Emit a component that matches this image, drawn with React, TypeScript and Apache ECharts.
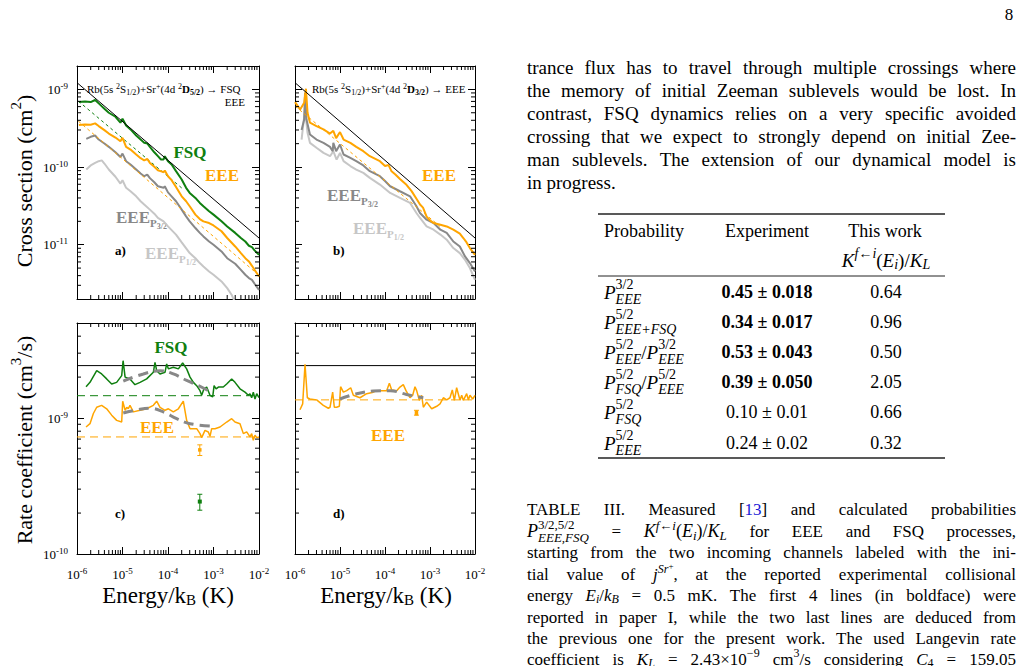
import React, { useEffect, useRef } from 'react';
import * as echarts from 'echarts';

type Pt = [number, number];

// ---------------- axis ranges ----------------
const X_MIN = 1e-6;
const X_MAX = 1e-2;
const SIGMA_MIN = 2e-12;
const SIGMA_MAX = 2e-9;
const RATE_MIN = 1e-10;
const RATE_MAX = 5e-9;
const MANTISSAS = [2, 3, 4, 5, 6, 7, 8, 9];
const X_DECADES = [1e-6, 1e-5, 1e-4, 1e-3];
const SIGMA_DECADES = [1e-12, 1e-11, 1e-10, 1e-9];
const RATE_DECADES = [1e-10, 1e-9];

// ---------------- panel a : cross sections, Sr+(4d 2D5/2) ----------------
const A_LANGEVIN: Pt[] = [[1e-6, 1.22e-9], [1e-2, 1.22e-11]];
const A_FSQ: Pt[] = [
  [1.1e-6, 6.86e-10], [1.5e-6, 7.0e-10], [2e-6, 6.86e-10], [2.5e-6, 7.3e-10], [3e-6, 6.6e-10],
  [4e-6, 5.63e-10], [5e-6, 5.0e-10], [7e-6, 4.44e-10], [9e-6, 3.72e-10], [1e-5, 4.19e-10],
  [1.2e-5, 3.43e-10], [1.5e-5, 3.05e-10], [2e-5, 2.55e-10], [2.5e-5, 2.26e-10], [3e-5, 2.05e-10],
  [3.5e-5, 2.01e-10], [4e-5, 1.82e-10], [5e-5, 1.55e-10], [6e-5, 1.38e-10], [7e-5, 1.25e-10],
  [8e-5, 1.25e-10], [8.5e-5, 1.38e-10], [1e-4, 1.19e-10], [1.2e-4, 1.08e-10], [1.5e-4, 8.85e-11],
  [2e-4, 6.9e-11], [2.5e-4, 5.4e-11], [3e-4, 4.64e-11], [4e-4, 4.0e-11], [5e-4, 3.45e-11],
  [6e-4, 3.13e-11], [8e-4, 2.7e-11], [1e-3, 2.44e-11], [1.5e-3, 2.0e-11], [2e-3, 1.72e-11],
  [3e-3, 1.42e-11], [4e-3, 1.22e-11], [5e-3, 1.1e-11], [6e-3, 9.7e-12], [7e-3, 9.3e-12],
  [8e-3, 8.45e-12], [1e-2, 7.4e-12],
];
const A_FSQ_FIT: Pt[] = [[1.07e-6, 7.06e-10], [2e-4, 5.38e-11]];
const A_EEE: Pt[] = [
  [1.1e-6, 3.47e-10], [1.5e-6, 3.54e-10], [2e-6, 3.5e-10], [2.5e-6, 3.65e-10], [3e-6, 3.37e-10],
  [4e-6, 2.99e-10], [5e-6, 2.7e-10], [7e-6, 2.4e-10], [9e-6, 2.15e-10], [1e-5, 2.38e-10],
  [1.2e-5, 1.82e-10], [1.5e-5, 1.68e-10], [2e-5, 1.45e-10], [2.5e-5, 1.3e-10], [3e-5, 1.22e-10],
  [3.5e-5, 1.27e-10], [4e-5, 1.13e-10], [5e-5, 1.01e-10], [6e-5, 9.1e-11], [8e-5, 8.6e-11],
  [8.5e-5, 9.0e-11], [1e-4, 7.62e-11], [1.2e-4, 6.77e-11], [1.5e-4, 5.55e-11], [2e-4, 4.2e-11],
  [2.5e-4, 3.63e-11], [3e-4, 3.13e-11], [4e-4, 2.44e-11], [5e-4, 2.14e-11], [6e-4, 2.0e-11],
  [8e-4, 1.9e-11], [1e-3, 1.77e-11], [1.5e-3, 1.49e-11], [2e-3, 1.22e-11], [3e-3, 9.5e-12],
  [4e-3, 7.8e-12], [5e-3, 6.7e-12], [6e-3, 6.1e-12], [7e-3, 5.35e-12], [8e-3, 4.75e-12],
  [1e-2, 3.9e-12],
];
const A_EEE_FIT: Pt[] = [[1.07e-6, 3.9e-10], [1e-2, 4.04e-12]];
const A_EEE_P32: Pt[] = [
  [1.6e-6, 2.31e-10], [2e-6, 2.45e-10], [2.5e-6, 2.55e-10], [3e-6, 2.26e-10], [4e-6, 2.01e-10],
  [5e-6, 1.82e-10], [7e-6, 1.55e-10], [9e-6, 1.35e-10], [1e-5, 1.49e-10], [1.2e-5, 1.19e-10],
  [1.5e-5, 1.08e-10], [2e-5, 9.29e-11], [2.5e-5, 8.25e-11], [3e-5, 7.62e-11], [3.5e-5, 8.0e-11],
  [4e-5, 7.2e-11], [5e-5, 6.37e-11], [6e-5, 5.66e-11], [8e-5, 5.4e-11], [8.5e-5, 5.66e-11],
  [1e-4, 4.72e-11], [1.2e-4, 4.2e-11], [1.5e-4, 3.63e-11], [2e-4, 2.83e-11], [2.5e-4, 2.32e-11],
  [3e-4, 2.0e-11], [4e-4, 1.64e-11], [5e-4, 1.42e-11], [6e-4, 1.28e-11], [8e-4, 1.1e-11],
  [1e-3, 1.0e-11], [1.5e-3, 8.2e-12], [2e-3, 6.7e-12], [3e-3, 5.68e-12], [4e-3, 4.75e-12],
  [5e-3, 4.1e-12], [6e-3, 3.72e-12], [7e-3, 3.53e-12], [8e-3, 3.14e-12], [1e-2, 2.62e-12],
];
const A_EEE_P12: Pt[] = [
  [1.6e-6, 9.29e-11], [2e-6, 1.05e-10], [2.5e-6, 1.13e-10], [3e-6, 1.19e-10], [3.5e-6, 1.22e-10],
  [4e-6, 1.11e-10], [5e-6, 9.29e-11], [7e-6, 7.5e-11], [9e-6, 6.13e-11], [1e-5, 6.77e-11],
  [1.2e-5, 5.4e-11], [1.5e-5, 4.88e-11], [2e-5, 4.2e-11], [2.5e-5, 3.63e-11], [3e-5, 3.29e-11],
  [4e-5, 2.83e-11], [5e-5, 2.51e-11], [6e-5, 2.21e-11], [8e-5, 2.0e-11], [1e-4, 1.72e-11],
  [1.5e-4, 1.35e-11], [2e-4, 1.07e-11], [3e-4, 7.8e-12], [4e-4, 6.7e-12], [5e-4, 5.8e-12],
  [6e-4, 5.25e-12], [8e-4, 4.53e-12], [1e-3, 4.1e-12], [1.5e-3, 3.37e-12], [2e-3, 2.76e-12],
  [2.5e-3, 2.27e-12], [3e-3, 1.8e-12],
];

// ---------------- panel b : cross sections, Sr+(4d 2D3/2) ----------------
const B_LANGEVIN: Pt[] = [[1e-6, 1.22e-9], [1e-2, 1.22e-11]];
const B_EEE: Pt[] = [
  [1e-6, 6.86e-10], [1.3e-6, 5.52e-10], [1.6e-6, 6.73e-10], [1.75e-6, 1.02e-9], [1.9e-6, 5.0e-10],
  [2.15e-6, 3.72e-10], [3e-6, 3.37e-10], [4.3e-6, 3.05e-10], [6e-6, 2.7e-10], [7.1e-6, 2.93e-10],
  [8.2e-6, 2.36e-10], [1e-5, 2.82e-10], [1.2e-5, 2.26e-10], [1.7e-5, 2.05e-10], [2.3e-5, 1.82e-10],
  [3.3e-5, 1.6e-10], [4.6e-5, 1.38e-10], [7.7e-5, 1.19e-10], [1e-4, 1.03e-10], [1.2e-4, 1.06e-10],
  [1.4e-4, 8.8e-11], [1.7e-4, 8.0e-11], [2.15e-4, 7.0e-11], [3e-4, 5.9e-11], [3.9e-4, 4.9e-11],
  [5e-4, 3.9e-11], [6e-4, 3.3e-11], [7e-4, 3.0e-11], [8.4e-4, 2.3e-11], [1e-3, 2.06e-11],
  [1.2e-3, 1.9e-11], [1.7e-3, 1.81e-11], [2.35e-3, 1.72e-11], [3.3e-3, 1.56e-11], [4.6e-3, 1.39e-11],
  [5.5e-3, 1.22e-11], [6.5e-3, 1.07e-11], [7.7e-3, 9.05e-12], [1e-2, 7.4e-12],
];
const B_EEE_FIT: Pt[] = [[1e-6, 6.1e-10], [1.67e-3, 1.72e-11]];
const B_EEE_P32: Pt[] = [
  [1.4e-6, 2.99e-10], [1.6e-6, 4.1e-10], [1.67e-6, 9.06e-10], [1.8e-6, 4.1e-10], [2.15e-6, 2.63e-10],
  [3e-6, 2.26e-10], [4.3e-6, 2.05e-10], [6e-6, 1.82e-10], [6.9e-6, 1.6e-10], [7.1e-6, 2.05e-10],
  [8.2e-6, 1.6e-10], [1e-5, 1.95e-10], [1.2e-5, 1.45e-10], [1.7e-5, 1.31e-10], [2.3e-5, 1.19e-10],
  [3.3e-5, 1.05e-10], [4.6e-5, 8.85e-11], [7.7e-5, 7.62e-11], [1e-4, 6.6e-11], [1.3e-4, 5.66e-11],
  [2.15e-4, 4.88e-11], [3.6e-4, 4.2e-11], [5e-4, 3.13e-11], [6e-4, 2.56e-11], [8.4e-4, 2.1e-11],
  [1.2e-3, 1.9e-11], [1.7e-3, 1.56e-11], [2.35e-3, 1.42e-11], [3.3e-3, 1.1e-11], [4.6e-3, 9.5e-12],
  [6e-3, 7.06e-12], [7.7e-3, 5.8e-12], [1e-2, 4.53e-12],
];
const B_EEE_P12: Pt[] = [
  [1.4e-6, 2.26e-10], [1.67e-6, 5.52e-10], [1.9e-6, 2.76e-10], [2.15e-6, 2.05e-10], [3e-6, 1.77e-10],
  [4.3e-6, 1.52e-10], [6e-6, 1.38e-10], [7.1e-6, 1.6e-10], [8.4e-6, 1.25e-10], [1e-5, 1.52e-10],
  [1.2e-5, 1.19e-10], [1.7e-5, 1.03e-10], [2.3e-5, 9.29e-11], [3.3e-5, 8.41e-11], [4.6e-5, 7.26e-11],
  [7.7e-5, 5.95e-11], [1.3e-4, 4.64e-11], [2.15e-4, 4.0e-11], [3.6e-4, 3.45e-11], [5e-4, 2.56e-11],
  [6e-4, 2.21e-11], [8.4e-4, 1.72e-11], [1.2e-3, 1.56e-11], [1.7e-3, 1.35e-11], [2.35e-3, 1.16e-11],
  [3.3e-3, 9.05e-12], [4.6e-3, 7.8e-12], [6e-3, 6.4e-12], [7.7e-3, 5.0e-12], [1e-2, 3.53e-12],
];

// ---------------- panel c : rate coefficients, 5/2 ----------------
const LANGEVIN_RATE = 2.43e-9;
const C_FSQ_LEVEL = 1.46e-9;
const C_EEE_LEVEL = 7.26e-10;
const C_FSQ: Pt[] = [
  [1.58e-6, 1.7e-9], [1.93e-6, 1.83e-9], [2.71e-6, 2.23e-9], [3.48e-6, 2.11e-9], [4.49e-6, 1.94e-9],
  [5.78e-6, 1.78e-9], [7.44e-6, 1.83e-9], [9.6e-6, 2.05e-9], [1.03e-5, 2.64e-9], [1.14e-5, 2.0e-9],
  [1.46e-5, 1.94e-9], [1.88e-5, 1.76e-9], [2.43e-5, 1.83e-9], [3.4e-5, 1.94e-9], [4.76e-5, 2.17e-9],
  [5.18e-5, 2.57e-9], [5.64e-5, 2.23e-9], [6.67e-5, 2.11e-9], [8.59e-5, 2.17e-9], [9.35e-5, 2.5e-9],
  [1.02e-4, 2.3e-9], [1.31e-4, 2.36e-9], [1.69e-4, 2.3e-9], [2.1e-4, 2.54e-9], [2.57e-4, 2.3e-9],
  [3.05e-4, 2.0e-9], [3.61e-4, 1.83e-9], [4.27e-4, 1.73e-9], [5.05e-4, 1.59e-9], [5.5e-4, 1.47e-9],
  [6.18e-4, 1.64e-9], [7.08e-4, 1.69e-9], [8.37e-4, 1.47e-9], [9.6e-4, 1.43e-9], [1.03e-3, 1.73e-9],
  [1.14e-3, 1.64e-9], [1.28e-3, 1.69e-9], [1.64e-3, 1.69e-9], [1.95e-3, 1.78e-9], [2.51e-3, 1.94e-9],
  [2.97e-3, 1.83e-9], [3.82e-3, 1.64e-9], [4.92e-3, 1.55e-9], [5.83e-3, 1.47e-9], [6.34e-3, 1.51e-9],
  [6.9e-3, 1.41e-9], [7.5e-3, 1.55e-9], [8.17e-3, 1.38e-9], [8.89e-3, 1.51e-9], [1e-2, 1.41e-9],
];
const C_EEE: Pt[] = [
  [1.58e-6, 8.59e-10], [1.93e-6, 9.09e-10], [2.29e-6, 1.08e-9], [2.71e-6, 1.2e-9], [3.48e-6, 1.24e-9],
  [4.49e-6, 1.17e-9], [5.78e-6, 1.05e-9], [7.44e-6, 9.61e-10], [9.6e-6, 9.35e-10], [1.01e-5, 1.33e-9],
  [1.14e-5, 1.14e-9], [1.24e-5, 1.2e-9], [1.34e-5, 1.17e-9], [1.46e-5, 1.24e-9], [1.73e-5, 1.11e-9],
  [2.43e-5, 1.14e-9], [3.4e-5, 1.17e-9], [4.76e-5, 1.24e-9], [5.64e-5, 1.33e-9], [6.67e-5, 1.2e-9],
  [8.59e-5, 1.14e-9], [1.02e-4, 1.17e-9], [1.31e-4, 1.11e-9], [1.69e-4, 1.17e-9], [2.17e-4, 1.33e-9],
  [2.57e-4, 9.61e-10], [3.05e-4, 8.35e-10], [3.61e-4, 8.35e-10], [4.27e-4, 8.35e-10], [5.05e-4, 7.68e-10],
  [5.5e-4, 7.18e-10], [6.5e-4, 8.12e-10], [7.69e-4, 7.9e-10], [8.37e-4, 7.34e-10], [9.12e-4, 8.35e-10],
  [1.08e-3, 8.35e-10], [1.39e-3, 8.59e-10], [1.95e-3, 9.35e-10], [2.51e-3, 9.89e-10], [2.97e-3, 9.35e-10],
  [3.82e-3, 9.09e-10], [4.53e-3, 7.68e-10], [5.36e-3, 7.9e-10], [6.34e-3, 7.26e-10], [6.9e-3, 7.68e-10],
  [7.5e-3, 6.87e-10], [8.17e-3, 7.47e-10], [8.89e-3, 7.18e-10], [1e-2, 7.26e-10],
];
const C_FSQ_AVG: Pt[] = [
  [1.04e-5, 1.87e-9], [2.87e-5, 2.11e-9], [6.67e-5, 2.23e-9], [1.31e-4, 2.11e-9],
  [2.57e-4, 1.89e-9], [5.05e-4, 1.71e-9], [7.69e-4, 1.59e-9],
];
const C_EEE_AVG: Pt[] = [
  [1.04e-5, 1.09e-9], [2.43e-5, 1.16e-9], [4.02e-5, 1.18e-9], [7.89e-5, 1.11e-9],
  [1.55e-4, 9.89e-10], [3.05e-4, 9.09e-10], [9.9e-4, 8.69e-10],
];
// [energy, value, low, high]
const C_EXP_EEE: number[][] = [[5e-4, 5.83e-10, 5.3e-10, 6.35e-10]];
const C_EXP_FSQ: number[][] = [[5e-4, 2.43e-10, 2.1e-10, 2.75e-10]];

// ---------------- panel d : rate coefficients, 3/2 ----------------
const D_EEE_LEVEL = 1.36e-9;
const D_EEE: Pt[] = [
  [1.29e-6, 1.15e-9], [1.48e-6, 1.27e-9], [1.67e-6, 2.48e-9], [1.88e-6, 1.41e-9], [2.15e-6, 1.38e-9],
  [3.03e-6, 1.36e-9], [4.26e-6, 1.24e-9], [5.5e-6, 1.18e-9], [6.0e-6, 1.2e-9], [6.87e-6, 1.55e-9],
  [7.48e-6, 1.2e-9], [8.43e-6, 1.2e-9], [9.67e-6, 1.22e-9], [1.03e-5, 1.7e-9], [1.19e-5, 1.55e-9],
  [1.41e-5, 1.59e-9], [1.73e-5, 1.67e-9], [1.98e-5, 1.47e-9], [2.78e-5, 1.41e-9], [3.91e-5, 1.51e-9],
  [5.5e-5, 1.55e-9], [6.53e-5, 1.59e-9], [7.74e-5, 1.59e-9], [1.09e-4, 1.59e-9], [1.25e-4, 1.8e-9],
  [1.41e-4, 1.61e-9], [1.82e-4, 1.59e-9], [2.15e-4, 1.69e-9], [2.55e-4, 1.76e-9], [2.93e-4, 1.59e-9],
  [3.59e-4, 1.41e-9], [4.12e-4, 1.47e-9], [4.64e-4, 1.7e-9], [5.05e-4, 1.59e-9], [5.8e-4, 1.35e-9],
  [6.53e-4, 1.47e-9], [7.11e-4, 1.2e-9], [8.43e-4, 1.31e-9], [1.09e-3, 1.17e-9], [1.41e-3, 1.22e-9],
  [1.67e-3, 1.27e-9], [1.98e-3, 1.41e-9], [2.35e-3, 1.36e-9], [2.78e-3, 1.41e-9], [3.13e-3, 1.61e-9],
  [3.47e-3, 1.35e-9], [3.91e-3, 1.67e-9], [4.64e-3, 1.35e-9], [5.06e-3, 1.47e-9], [5.5e-3, 1.35e-9],
  [6.53e-3, 1.51e-9], [7.11e-3, 1.36e-9], [7.74e-3, 1.47e-9], [8.87e-3, 1.38e-9], [1e-2, 1.47e-9],
];
const D_EEE_AVG: Pt[] = [
  [1e-5, 1.38e-9], [2.35e-5, 1.51e-9], [5.5e-5, 1.58e-9], [1.3e-4, 1.59e-9], [3e-4, 1.49e-9], [7.11e-4, 1.41e-9],
];
const D_EXP_EEE: number[][] = [[5e-4, 1.09e-9, 1.05e-9, 1.14e-9]];

// ---------------- text content ----------------
const PARAGRAPH = [
  'trance flux has to travel through multiple crossings where',
  'the memory of initial Zeeman sublevels would be lost. In',
  'contrast, FSQ dynamics relies on a very specific avoided',
  'crossing that we expect to strongly depend on initial Zee-',
  'man sublevels. The extension of our dynamical model is',
  'in progress.',
];
const TABLE_HEAD = ['Probability', 'Experiment', 'This work'];
const TABLE_PROB: [string, string][][] = [
  [['3/2', 'EEE']],
  [['5/2', 'EEE+FSQ']],
  [['5/2', 'EEE'], ['3/2', 'EEE']],
  [['5/2', 'FSQ'], ['5/2', 'EEE']],
  [['5/2', 'FSQ']],
  [['5/2', 'EEE']],
];
const TABLE_EXP = ['0.45 ± 0.018', '0.34 ± 0.017', '0.53 ± 0.043', '0.39 ± 0.050', '0.10 ± 0.01', '0.24 ± 0.02'];
const TABLE_EXP_BOLD = [true, true, true, true, false, false];
const TABLE_THEORY = ['0.64', '0.96', '0.50', '2.05', '0.66', '0.32'];

// ---------------- styling ----------------
const GREEN = '#0f7f0f';
const ORANGE = '#ffa500';
const GRAY = '#888888';
const LIGHT = '#c6c6c6';
const BLUE = '#1a1ad6';
const FAM = "'Liberation Serif', 'Times New Roman', serif";

function fnt(size: number, b?: boolean, i?: boolean) {
  return `${i ? 'italic ' : ''}${b ? 'bold ' : ''}${Math.round(size)}px ${FAM}`;
}
let _ctx: CanvasRenderingContext2D | null = null;
function mw(s: string, font: string) {
  if (!_ctx) _ctx = document.createElement('canvas').getContext('2d');
  _ctx!.font = font;
  return _ctx!.measureText(s).width;
}
type Part = { s: string; size: number; b?: boolean; i?: boolean; dy?: number; c?: string; stack?: boolean };
type Tok = { w: number; parts: Part[] };
function tok(parts: Part[]): Tok {
  let x = 0, pend = 0;
  for (const p of parts) {
    const w = mw(p.s, fnt(p.size, p.b, p.i));
    if (p.stack) pend = Math.max(pend, w);
    else { x += Math.max(w, pend); pend = 0; }
  }
  x += pend;
  return { w: x, parts };
}
function textEl(x: number, y: number, s: string, font: string, fill: string, align = 'left') {
  return {
    type: 'text', x, y, silent: true,
    style: { text: s, font, fill, align, textAlign: align, verticalAlign: 'middle', textVerticalAlign: 'middle' },
  };
}
function renderTok(t: Tok, x0: number, y: number, out: any[]) {
  let x = x0, pend = 0;
  for (const p of t.parts) {
    const font = fnt(p.size, p.b, p.i);
    const w = mw(p.s, font);
    out.push(textEl(x, y + (p.dy || 0), p.s, font, p.c || '#000'));
    if (p.stack) pend = Math.max(pend, w);
    else { x += Math.max(w, pend); pend = 0; }
  }
}
function W(s: string, size: number, extra: Partial<Part> = {}): Tok {
  return tok([{ s, size, ...extra }]);
}
function lineOut(tokens: Tok[], x0: number, x1: number, y: number, out: any[], justify: boolean, size: number) {
  const sum = tokens.reduce((a, t) => a + t.w, 0);
  const gap = justify && tokens.length > 1 ? (x1 - x0 - sum) / (tokens.length - 1) : mw(' ', fnt(size));
  let x = x0;
  for (const t of tokens) { renderTok(t, x, y, out); x += t.w + gap; }
}
function words(s: string, size: number): Tok[] {
  return s.split(' ').map((w) => W(w, size));
}

function powLabel(v: number) {
  const e = Math.log10(v);
  const r = Math.round(e);
  if (Math.abs(e - r) > 1e-6) return '';
  return `{b|10}{s|${r}}`;
}
const LABEL_RICH = {
  b: { fontFamily: FAM, fontSize: 13, lineHeight: 16, color: '#000' },
  s: { fontFamily: FAM, fontSize: 9, lineHeight: 7, verticalAlign: 'top', color: '#000' },
};

function minors(decades: number[], lo: number, hi: number) {
  const out: number[] = [];
  for (const d of decades) for (const m of MANTISSAS) {
    const v = m * d;
    if (v > lo * 1.0001 && v < hi * 0.9999) out.push(v);
  }
  return out;
}

const GRIDS = [
  { left: 77, top: 66, width: 182, height: 233 },
  { left: 295, top: 66, width: 180, height: 233 },
  { left: 77, top: 323, width: 182, height: 231 },
  { left: 295, top: 323, width: 180, height: 231 },
];

function axis(g: number, min: number, max: number, position: string, labels: boolean, margin: number) {
  return {
    type: 'log', logBase: 10, gridIndex: g, min, max, position,
    axisLine: { show: true, onZero: false, lineStyle: { color: '#000', width: 1 } },
    axisTick: { show: true, inside: true, length: 7, lineStyle: { color: '#000', width: 1 } },
    axisLabel: { show: labels, margin, formatter: powLabel, rich: LABEL_RICH, color: '#000' },
    splitLine: { show: false },
    minorTick: { show: false },
  };
}

function lineS(g: number, data: Pt[], color: string, width: number, type: any = 'solid', extra: any = {}) {
  return {
    type: 'line', xAxisIndex: 2 * g, yAxisIndex: 2 * g, data, showSymbol: false, symbol: 'none',
    silent: true, lineStyle: { color, width, type }, ...extra,
  };
}
function levelS(g: number, v: number, color: string, width: number, type: any) {
  return lineS(g, [[X_MIN, v], [X_MAX, v]], color, width, type);
}
function xTicks(g: number, yMin: number, yMax: number) {
  return {
    type: 'custom', xAxisIndex: 2 * g, yAxisIndex: 2 * g, silent: true, z: 10,
    data: minors(X_DECADES, X_MIN, X_MAX).map((v) => [v, yMin]),
    renderItem: (_p: any, api: any) => {
      const v = api.value(0);
      const b = api.coord([v, yMin]);
      const t = api.coord([v, yMax]);
      return {
        type: 'group', children: [
          { type: 'line', shape: { x1: b[0], y1: b[1], x2: b[0], y2: b[1] - 4 }, style: { stroke: '#000', lineWidth: 1 } },
          { type: 'line', shape: { x1: t[0], y1: t[1], x2: t[0], y2: t[1] + 4 }, style: { stroke: '#000', lineWidth: 1 } },
        ],
      };
    },
  };
}
function yTicks(g: number, decades: number[], yMin: number, yMax: number) {
  return {
    type: 'custom', xAxisIndex: 2 * g, yAxisIndex: 2 * g, silent: true, z: 10,
    data: minors(decades, yMin, yMax).map((v) => [X_MIN, v]),
    renderItem: (_p: any, api: any) => {
      const v = api.value(1);
      const l = api.coord([X_MIN, v]);
      const r = api.coord([X_MAX, v]);
      return {
        type: 'group', children: [
          { type: 'line', shape: { x1: l[0], y1: l[1], x2: l[0] + 4, y2: l[1] }, style: { stroke: '#000', lineWidth: 1 } },
          { type: 'line', shape: { x1: r[0], y1: r[1], x2: r[0] - 4, y2: r[1] }, style: { stroke: '#000', lineWidth: 1 } },
        ],
      };
    },
  };
}
function errS(g: number, data: number[][], color: string, mw2: number, mh: number) {
  return {
    type: 'custom', xAxisIndex: 2 * g, yAxisIndex: 2 * g, silent: true, z: 8, data,
    renderItem: (_p: any, api: any) => {
      const e = api.value(0);
      const c = api.coord([e, api.value(1)]);
      const lo = api.coord([e, api.value(2)]);
      const hi = api.coord([e, api.value(3)]);
      return {
        type: 'group', children: [
          { type: 'line', shape: { x1: c[0], y1: lo[1], x2: c[0], y2: hi[1] }, style: { stroke: color, lineWidth: 1 } },
          { type: 'line', shape: { x1: c[0] - 2.5, y1: lo[1], x2: c[0] + 2.5, y2: lo[1] }, style: { stroke: color, lineWidth: 1 } },
          { type: 'line', shape: { x1: c[0] - 2.5, y1: hi[1], x2: c[0] + 2.5, y2: hi[1] }, style: { stroke: color, lineWidth: 1 } },
          { type: 'rect', shape: { x: c[0] - mw2 / 2, y: c[1] - mh / 2, width: mw2, height: mh }, style: { fill: color } },
        ],
      };
    },
  };
}

function buildGraphics() {
  const out: any[] = [];
  // page number
  out.push(textEl(1009, 14, '8', fnt(17), '#000', 'center'));

  // paragraph
  const PS = 19;
  PARAGRAPH.forEach((s, i) => {
    lineOut(words(s, PS), 527, 1016, 67 + i * 23, out, i < PARAGRAPH.length - 1, PS);
  });

  // table
  const TS = 18, TSS = 14;
  out.push({ type: 'line', silent: true, shape: { x1: 598, y1: 214, x2: 945, y2: 214 }, style: { stroke: '#222', lineWidth: 1.5 } });
  out.push({ type: 'line', silent: true, shape: { x1: 598, y1: 276, x2: 945, y2: 276 }, style: { stroke: '#222', lineWidth: 1 } });
  out.push({ type: 'line', silent: true, shape: { x1: 598, y1: 458, x2: 945, y2: 458 }, style: { stroke: '#222', lineWidth: 1.5 } });
  out.push(textEl(604, 231, TABLE_HEAD[0], fnt(TS), '#000', 'left'));
  out.push(textEl(767, 231, TABLE_HEAD[1], fnt(TS), '#000', 'center'));
  out.push(textEl(885, 231, TABLE_HEAD[2], fnt(TS), '#000', 'center'));
  const kHead = tok([
    { s: 'K', size: 19, i: true }, { s: 'f←i', size: TSS, i: true, dy: -7 }, { s: '(', size: 19 },
    { s: 'E', size: 19, i: true }, { s: 'i', size: TSS, i: true, dy: 4 }, { s: ')/', size: 19 },
    { s: 'K', size: 19, i: true }, { s: 'L', size: TSS, i: true, dy: 4 },
  ]);
  renderTok(kHead, 886 - kHead.w / 2, 260, out);
  const ROW_Y = [292, 322, 352, 382, 412, 443];
  TABLE_PROB.forEach((terms, r) => {
    const parts: Part[] = [];
    terms.forEach(([sup, sub], k) => {
      if (k > 0) parts.push({ s: '/', size: 19 });
      parts.push({ s: 'P', size: 19, i: true });
      parts.push({ s: sup, size: TSS, dy: -8, stack: true });
      parts.push({ s: sub, size: TSS, i: true, dy: 7 });
    });
    renderTok(tok(parts), 604, ROW_Y[r], out);
    out.push(textEl(767, ROW_Y[r], TABLE_EXP[r], fnt(TS, TABLE_EXP_BOLD[r]), '#000', 'center'));
    out.push(textEl(886, ROW_Y[r], TABLE_THEORY[r], fnt(TS), '#000', 'center'));
  });

  // caption
  const CS = 17, CSS = 12, CMS = 13;
  const capLines: Tok[][] = [
    [W('TABLE', CS), W('III.', CS), W('Measured', CS),
      tok([{ s: '[', size: CS }, { s: '13', size: CS, c: BLUE }, { s: ']', size: CS }]),
      W('and', CS), W('calculated', CS), W('probabilities', CS)],
    [tok([{ s: 'P', size: 18, i: true }, { s: '3/2,5/2', size: CMS, dy: -7, stack: true }, { s: 'EEE,FSQ', size: CMS, i: true, dy: 6 }]),
      W('=', CS),
      tok([{ s: 'K', size: 18, i: true }, { s: 'f←i', size: CMS, i: true, dy: -6 }, { s: '(', size: 18 },
        { s: 'E', size: 18, i: true }, { s: 'i', size: CMS, i: true, dy: 4 }, { s: ')/', size: 18 },
        { s: 'K', size: 18, i: true }, { s: 'L', size: CMS, i: true, dy: 4 }]),
      ...words('for EEE and FSQ processes,', CS)],
    words('starting from the two incoming channels labeled with the ini-', CS),
    [...words('tial value of', CS),
      tok([{ s: 'j', size: CS, i: true }, { s: 'Sr', size: CSS, i: true, dy: -5 }, { s: '+', size: 9, dy: -8 }, { s: ',', size: CS }]),
      ...words('at the reported experimental collisional', CS)],
    [W('energy', CS),
      tok([{ s: 'E', size: CS, i: true }, { s: 'i', size: CSS, i: true, dy: 4 }, { s: '/', size: CS },
        { s: 'k', size: CS, i: true }, { s: 'B', size: CSS, i: true, dy: 4 }]),
      ...words('= 0.5 mK. The first 4 lines (in boldface) were', CS)],
    words('reported in paper I, while the two last lines are deduced from', CS),
    words('the previous one for the present work. The used Langevin rate', CS),
    [...words('coefficient is', CS),
      tok([{ s: 'K', size: CS, i: true }, { s: 'L', size: CSS, i: true, dy: 4 }]),
      W('=', CS),
      tok([{ s: '2.43×10', size: CS }, { s: '−9', size: CSS, dy: -6 }]),
      tok([{ s: 'cm', size: CS }, { s: '3', size: CSS, dy: -6 }, { s: '/s', size: CS }]),
      W('considering', CS),
      tok([{ s: 'C', size: CS, i: true }, { s: '4', size: CSS, dy: 4 }]),
      W('=', CS), W('159.05', CS)],
  ];
  const CAP_Y = [509, 531, 552, 574, 595, 617, 638, 659];
  capLines.forEach((l, i) => lineOut(l, 527, 1016, CAP_Y[i], out, true, CS));

  // axis titles
  const TT = 22;
  const ytitle = (parts: Part[], cx: number, cy: number) => {
    const t = tok(parts);
    const ch: any[] = [];
    renderTok(t, -t.w / 2, 0, ch);
    out.push({ type: 'group', x: cx, y: cy, rotation: Math.PI / 2, children: ch });
  };
  ytitle([{ s: 'Cross section (cm', size: TT }, { s: '2', size: 15, dy: -8 }, { s: ')', size: TT }], 24, 181);
  ytitle([{ s: 'Rate coefficient (cm', size: TT }, { s: '3', size: 15, dy: -8 }, { s: '/s)', size: TT }], 24, 440);
  const etitle = tok([{ s: 'Energy/k', size: 23 }, { s: 'B', size: 15, dy: 5 }, { s: ' (K)', size: 23 }]);
  renderTok(etitle, 168 - etitle.w / 2, 595, out);
  renderTok(etitle, 386 - etitle.w / 2, 595, out);

  // panel headers
  const HS = 11, HSS = 8;
  const header = (j: string, dest: string) => tok([
    { s: 'Rb(5s ', size: HS }, { s: '2', size: HSS, dy: -3 }, { s: 'S', size: HS }, { s: '1/2', size: HSS, dy: 3 },
    { s: ')+Sr', size: HS }, { s: '+', size: HSS, dy: -3 }, { s: '(4d ', size: HS }, { s: '2', size: HSS, dy: -3 },
    { s: 'D', size: HS, b: true }, { s: j, size: HSS, b: true, dy: 3 }, { s: ') → ' + dest, size: HS },
  ]);
  renderTok(header('5/2', 'FSQ'), 87, 89, out);
  out.push(textEl(245, 102, 'EEE', fnt(HS), '#000', 'right'));
  renderTok(header('3/2', 'EEE'), 312, 89, out);

  // curve labels
  const LS = 17;
  const lab = (s: string, x: number, y: number, c: string) => out.push(textEl(x, y, s, fnt(LS, true), c, 'center'));
  const labP = (j: string, x: number, y: number, c: string) => renderTok(tok([
    { s: 'EEE', size: LS, b: true, c }, { s: 'P', size: 11, b: true, dy: 6, c }, { s: j, size: 8, b: true, dy: 9, c },
  ]), x, y, out);
  const pan = (s: string, x: number, y: number) => out.push(textEl(x, y, s, fnt(13, true), '#000', 'left'));
  lab('FSQ', 190, 152, GREEN); lab('EEE', 222, 175, ORANGE);
  labP('3/2', 116, 217, GRAY); labP('1/2', 145, 253, LIGHT); pan('a)', 115, 250);
  lab('EEE', 439, 175, ORANGE);
  labP('3/2', 327, 195, GRAY); labP('1/2', 353, 228, LIGHT); pan('b)', 333, 250);
  lab('FSQ', 171, 347, GREEN); lab('EEE', 157, 427, ORANGE); pan('c)', 115, 513);
  lab('EEE', 388, 435, ORANGE); pan('d)', 333, 513);
  return out;
}

function buildOption() {
  const xAxis: any[] = [];
  const yAxis: any[] = [];
  for (let g = 0; g < 4; g++) {
    const yr = g < 2 ? [SIGMA_MIN, SIGMA_MAX] : [RATE_MIN, RATE_MAX];
    xAxis.push(axis(g, X_MIN, X_MAX, 'bottom', g >= 2, 12), axis(g, X_MIN, X_MAX, 'top', false, 8));
    yAxis.push(axis(g, yr[0], yr[1], 'left', g % 2 === 0, 9), axis(g, yr[0], yr[1], 'right', false, 8));
  }
  const fitDash = [3, 3];
  const levelDash = [8, 5];
  const avgDash = [10, 6];
  const series: any[] = [
    // panel a
    lineS(0, A_EEE_P12, LIGHT, 2), lineS(0, A_EEE_P32, GRAY, 2),
    lineS(0, A_EEE_FIT, ORANGE, 1, fitDash), lineS(0, A_FSQ_FIT, GREEN, 1, fitDash),
    lineS(0, A_EEE, ORANGE, 2), lineS(0, A_FSQ, GREEN, 2), lineS(0, A_LANGEVIN, '#000', 1),
    // panel b
    lineS(1, B_EEE_P12, LIGHT, 2), lineS(1, B_EEE_P32, GRAY, 2),
    lineS(1, B_EEE_FIT, ORANGE, 1, fitDash), lineS(1, B_EEE, ORANGE, 2), lineS(1, B_LANGEVIN, '#000', 1),
    // panel c
    levelS(2, LANGEVIN_RATE, '#000', 1, 'solid'),
    levelS(2, C_FSQ_LEVEL, GREEN, 1, levelDash), levelS(2, C_EEE_LEVEL, ORANGE, 1, levelDash),
    lineS(2, C_FSQ, GREEN, 1.5), lineS(2, C_EEE, ORANGE, 1.5),
    lineS(2, C_FSQ_AVG, GRAY, 3, avgDash, { smooth: 0.4 }), lineS(2, C_EEE_AVG, GRAY, 3, avgDash, { smooth: 0.4 }),
    errS(2, C_EXP_EEE, ORANGE, 3.5, 3.5), errS(2, C_EXP_FSQ, GREEN, 4, 4),
    // panel d
    levelS(3, LANGEVIN_RATE, '#000', 1, 'solid'),
    levelS(3, D_EEE_LEVEL, ORANGE, 1, levelDash),
    lineS(3, D_EEE, ORANGE, 1.5),
    lineS(3, D_EEE_AVG, GRAY, 3, avgDash, { smooth: 0.4 }),
    errS(3, D_EXP_EEE, ORANGE, 3.5, 5),
    // minor ticks
    xTicks(0, SIGMA_MIN, SIGMA_MAX), xTicks(1, SIGMA_MIN, SIGMA_MAX), xTicks(2, RATE_MIN, RATE_MAX), xTicks(3, RATE_MIN, RATE_MAX),
    yTicks(0, SIGMA_DECADES, SIGMA_MIN, SIGMA_MAX), yTicks(1, SIGMA_DECADES, SIGMA_MIN, SIGMA_MAX),
    yTicks(2, RATE_DECADES, RATE_MIN, RATE_MAX), yTicks(3, RATE_DECADES, RATE_MIN, RATE_MAX),
  ];
  return {
    animation: false,
    backgroundColor: '#fff',
    textStyle: { fontFamily: FAM },
    grid: GRIDS.map((g) => ({ ...g, containLabel: false, outerBoundsMode: 'none' })),
    xAxis, yAxis, series,
    graphic: { elements: buildGraphics() },
  };
}

export default function App() {
  const ref = useRef<HTMLDivElement>(null);
  useEffect(() => {
    if (!ref.current) return;
    const chart = echarts.init(ref.current, undefined, { renderer: 'svg' });
    chart.setOption(buildOption() as any);
    return () => chart.dispose();
  }, []);
  return <div ref={ref} style={{ position: 'absolute', left: 0, top: 0, width: 1023, height: 666, background: '#fff' }} />;
}
